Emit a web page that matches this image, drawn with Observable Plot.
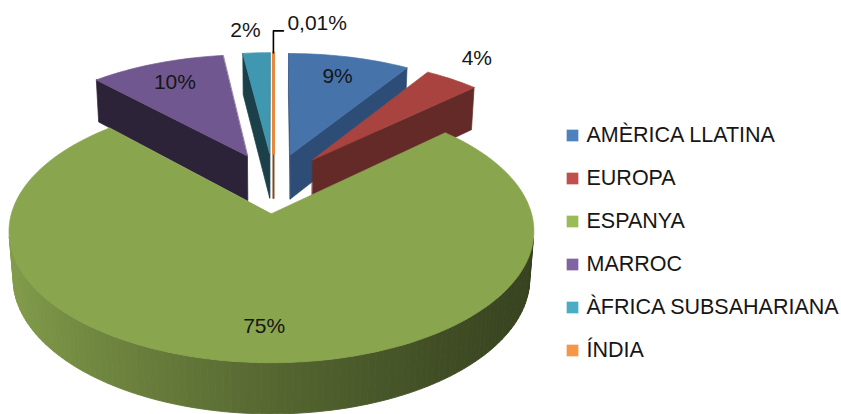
<!DOCTYPE html>
<html>
<head>
<meta charset="utf-8">
<script src="https://cdn.jsdelivr.net/npm/d3@7"></script>
<script src="https://cdn.jsdelivr.net/npm/@observablehq/plot@0.6"></script>
<style>
  html, body { margin: 0; padding: 0; background: #fff; }
  #chart svg { display: block; }
</style>
</head>
<body>
<div id="chart"></div>
<script>
// ---------- data ----------
const categories = ["AMÈRICA LLATINA", "EUROPA", "ESPANYA", "MARROC", "ÀFRICA SUBSAHARIANA", "ÍNDIA"];
const values = [9, 4, 75, 10, 2, 0.01];
const labels = ["9%", "4%", "75%", "10%", "2%", "0,01%"];
const legendColors = ["#4F81BD", "#C0504D", "#9BBB59", "#8064A2", "#4BACC6", "#F79646"];
const topColors = ["#4673AA", "#A8433F", "#89A54E", "#71578F", "#4098B0", "#E8873F"];
const wallColors = ["#2D4D76", "#642A28", "#5A6E33", "#2C2339", "#1C4049", "#7E4A20"];

// ---------- layout / 3D view ----------
const W = 841, H = 414;
const F = 251.6, CX = 273, CY = 182;          // pixel scale and screen centre
const sinE = 0.48, cosE = 0.877, DIST = 6.75;  // elevation and camera distance
const EXPLODE = 0.25, THICK = 0.21;
const font = "'Liberation Sans', Arial, sans-serif";

function proj(X, Y, Z) {
  const den = 1 - (Y * sinE + Z * cosE) / DIST;
  return [X / den, (Z * sinE - Y * cosE) / den];
}

const total = d3.sum(values);
const cum = [0, ...d3.cumsum(values)];
const slices = values.map((v, i) => {
  const a0 = cum[i] / total * 2 * Math.PI;
  const a1 = cum[i + 1] / total * 2 * Math.PI;
  const mid = (a0 + a1) / 2;
  return {i, v, a0, a1, mid, ox: EXPLODE * Math.sin(mid), oz: -EXPLODE * Math.cos(mid)};
});
const P = (s, r, a, Y) => proj(s.ox + r * Math.sin(a), Y, s.oz - r * Math.cos(a));
const area = pts => {
  let A = 0;
  for (let k = 0; k < pts.length; k++) {
    const p = pts[k], q = pts[(k + 1) % pts.length];
    A += p[0] * q[1] - q[0] * p[1];
  }
  return A / 2;
};

const rows = [];
let fid = 0;
function addFace(pts, fill, sw) {
  const id = fid++;
  for (const [u, v] of pts) rows.push({id, u, v, fill, sw});
}

const order = slices.slice().sort((a, b) => a.oz - b.oz); // far first
for (const s of order) {
  const tiny = s.v / total < 0.005;
  const sw = tiny ? 3 : 0.7;
  const n = Math.max(2, Math.ceil((s.a1 - s.a0) / (Math.PI / 120)));
  const angs = d3.range(n + 1).map(k => s.a0 + (s.a1 - s.a0) * k / n);
  const top = [P(s, 0, 0, 0), ...angs.map(a => P(s, 1, a, 0))];
  const startWall = [P(s, 0, s.a0, 0), P(s, 0, s.a0, -THICK), P(s, 1, s.a0, -THICK), P(s, 1, s.a0, 0)];
  const endWall = [P(s, 0, s.a1, 0), P(s, 1, s.a1, 0), P(s, 1, s.a1, -THICK), P(s, 0, s.a1, -THICK)];
  if (area(startWall) > 0 && !tiny) addFace(startWall, wallColors[s.i], sw);
  if (area(endWall) > 0 || tiny) addFace(endWall, wallColors[s.i], tiny ? 2 : sw);
  const base = d3.color(topColors[s.i]);
  const light = base.darker(0.12).formatHex(), dark = base.darker(2.55).formatHex();
  const shade = d3.interpolateRgb(dark, light);
  for (let k = 0; k < n; k++) {
    const q = [P(s, 1, angs[k], 0), P(s, 1, angs[k], -THICK), P(s, 1, angs[k + 1], -THICK), P(s, 1, angs[k + 1], 0)];
    if (area(q) > 0) {
      const am = (angs[k] + angs[k + 1]) / 2;
      const t = Math.pow((1 - Math.sin(am)) / 2, 1.3);
      addFace(q, shade(t), 0.9);
    }
  }
  addFace(top, topColors[s.i], sw);
}

// labels
const inside = [], outside = [], leaderRows = [], leaderText = [];
slices.forEach(s => {
  const share = s.v / total;
  if (share >= 0.05) {
    const [u, v] = P(s, 0.78, s.mid, 0);
    inside.push({u, v, text: labels[s.i]});
  } else if (share >= 0.005) {
    const [u, v] = P(s, 1.26, s.mid - 0.03, 0);
    outside.push({u, v, text: labels[s.i]});
  } else {
    const [u0, v0] = P(s, 1.0, s.mid, 0);
    const [u1, v1] = P(s, 1.25, s.mid, 0);
    leaderRows.push({u: u0, v: v0}, {u: u0, v: v1}, {u: u0 + 10 / F, v: v1});
    leaderText.push({u: u0, v: v1, text: labels[s.i]});
  }
});

// legend
const legendRows = categories.map((c, i) => ({
  name: c, color: legendColors[i],
  u: (572 - CX) / F, v: (135 + 43 * i - CY) / F
}));

const chart = Plot.plot({
  width: W, height: H,
  margin: 0,
  x: {domain: [-CX / F, (W - CX) / F], range: [0, W], axis: null},
  y: {domain: [-CY / F, (H - CY) / F], range: [0, H], axis: null},
  color: {type: "identity"},
  style: {background: "#fff", fontFamily: font},
  marks: [
    Plot.line(rows, {x: "u", y: "v", z: "id", fill: "fill", stroke: "fill", strokeWidth: "sw",
      curve: "linear-closed", strokeLinejoin: "round"}),
    Plot.line(leaderRows, {x: "u", y: "v", stroke: "#000", strokeWidth: 1.6}),
    Plot.text(inside, {x: "u", y: "v", text: "text", fontSize: 21, fill: "#161616", fontFamily: font}),
    Plot.text(outside, {x: "u", y: "v", text: "text", fontSize: 21, fill: "#161616", fontFamily: font}),
    Plot.text(leaderText, {x: "u", y: "v", text: "text", fontSize: 21, fill: "#161616", fontFamily: font,
      textAnchor: "start", dx: 14, dy: -8}),
    Plot.dot(legendRows, {x: "u", y: "v", fill: "color", symbol: "square", r: 6.6}),
    Plot.text(legendRows, {x: "u", y: "v", text: "name", fontSize: 21.5, fill: "#161616", fontFamily: font,
      textAnchor: "start", dx: 14})
  ]
});
document.getElementById("chart").appendChild(chart);
</script>
</body>
</html>
